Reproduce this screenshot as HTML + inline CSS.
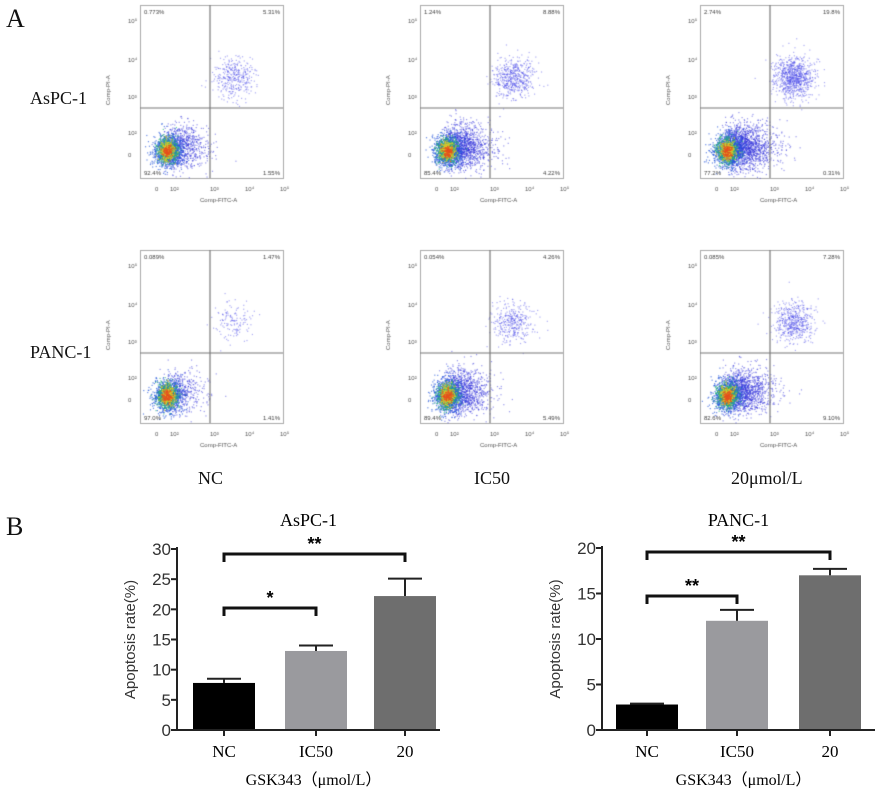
<!DOCTYPE html>
<html><head><meta charset="utf-8">
<style>
html,body{margin:0;padding:0;background:#fff;}
#wrap{position:relative;width:886px;height:788px;overflow:hidden;font-family:"Liberation Serif",serif;}
.t{position:absolute;color:#111;white-space:nowrap;}
canvas{position:absolute;left:0;top:0;}
</style></head>
<body>
<div id="wrap">
<canvas id="flow" width="886" height="480"></canvas>
<div class="t" style="left:6px;top:4px;font-size:26px">A</div>
<div class="t" style="left:30px;top:88px;font-size:18px">AsPC-1</div>
<div class="t" style="left:30px;top:342px;font-size:18px">PANC-1</div>
<div class="t" style="left:198px;top:468px;font-size:18px">NC</div>
<div class="t" style="left:474px;top:468px;font-size:18px">IC50</div>
<div class="t" style="left:731px;top:468px;font-size:18px">20μmol/L</div>
<div class="t" style="left:6px;top:512px;font-size:26px">B</div>
<svg id="bars" width="886" height="788" style="position:absolute;left:0;top:0"></svg>
</div>
<script>
// ---- Bar chart data ----
const categories = ["NC","IC50","20"];
const aspcValues = [7.8, 13.1, 22.2];
const aspcErrors = [0.7, 0.9, 2.9];
const pancValues = [2.8, 12.0, 17.0];
const pancErrors = [0.1, 1.2, 0.7];
const aspcTicks = [0,5,10,15,20,25,30];
const pancTicks = [0,5,10,15,20];
const barColors = ["#000000","#9a9a9e","#6e6e6e"];

const NS="http://www.w3.org/2000/svg";
const svg=document.getElementById('bars');
function mk(tag,attrs,name,txt){const e=document.createElementNS(NS,tag);for(const k in attrs)e.setAttribute(k,attrs[k]);


if(txt!==undefined)e.textContent=txt;svg.appendChild(e);return e;}

function chart(prefix,title,ax,axEnd,y0,yTop,maxV,ticks,vals,errs,barLefts,sigs){
  const y=v=>y0-(v/maxV)*(y0-yTop);
  const bw=62;
  mk('text',{x:(ax+axEnd)/2,y:526,'font-size':18,'text-anchor':'middle','font-family':'Liberation Serif'},prefix+'-title',title);
  vals.forEach((v,i)=>{
    const x=barLefts[i];
    mk('rect',{x:x,y:y(v),width:bw,height:y0-y(v),fill:barColors[i]},prefix+'-bar-'+categories[i].toLowerCase());
    const cx=x+bw/2,ye=y(v+errs[i]);
    mk('line',{x1:cx,y1:y(v),x2:cx,y2:ye,stroke:'#222','stroke-width':2},prefix+'-error-'+i);
    mk('line',{x1:cx-17,y1:ye,x2:cx+17,y2:ye,stroke:'#222','stroke-width':2},prefix+'-error-cap-'+i);
    mk('line',{x1:cx,y1:y0,x2:cx,y2:y0+6,stroke:'#222','stroke-width':2},prefix+'-xtick-'+i);
    mk('text',{x:cx,y:y0+27,'font-size':17,'text-anchor':'middle','font-family':'Liberation Serif'},prefix+'-xlabel-'+i,categories[i]);
  });
  mk('line',{x1:ax,y1:yTop-2,x2:ax,y2:y0,stroke:'#222','stroke-width':2},prefix+'-y-axis');
  mk('line',{x1:ax,y1:y0,x2:axEnd,y2:y0,stroke:'#222','stroke-width':2},prefix+'-x-axis');
  ticks.forEach(t=>{
    mk('line',{x1:ax-6,y1:y(t),x2:ax,y2:y(t),stroke:'#222','stroke-width':2},prefix+'-ytick-'+t);
    mk('text',{x:ax-6,y:y(t)+6,'font-size':17,'text-anchor':'end','font-family':'Liberation Sans','fill':'#333'},prefix+'-ytick-label-'+t,String(t));
  });
  mk('text',{x:0,y:0,'font-size':15,'text-anchor':'middle','font-family':'Liberation Sans','fill':'#333',transform:`translate(${ax-42},${(y0+yTop)/2}) rotate(-90)`},prefix+'-y-axis-title','Apoptosis rate(%)');
  mk('text',{x:(ax+axEnd)/2+5,y:y0+55,'font-size':16,'text-anchor':'middle','font-family':'Liberation Serif'},prefix+'-x-axis-title','GSK343（μmol/L）');
  sigs.forEach((s,k)=>{
    const x1=barLefts[s.a]+bw/2,x2=barLefts[s.b]+bw/2,yy=s.y;
    mk('path',{d:`M${x1},${yy+8}V${yy}H${x2}V${yy+8}`,fill:'none',stroke:'#111','stroke-width':3},prefix+'-sig-bracket-'+k);
    mk('text',{x:(x1+x2)/2,y:yy-4,'font-size':18,'text-anchor':'middle','font-family':'Liberation Sans','font-weight':'bold'},prefix+'-sig-star-'+k,s.t);
  });
}
chart('aspc','AsPC-1',177,440,730,549,30,aspcTicks,aspcValues,aspcErrors,[193,285,374],
  [{a:0,b:2,y:554,t:'**'},{a:0,b:1,y:608,t:'*'}]);
chart('panc','PANC-1',602,875,730,548,20,pancTicks,pancValues,pancErrors,[616,706,799],
  [{a:0,b:2,y:552,t:'**'},{a:0,b:1,y:596,t:'**'}]);

// ---- Flow cytometry panels ----
const cv=document.getElementById('flow');const c=cv.getContext('2d');
let seed=7;function rnd(){seed=(seed*16807)%2147483647;return seed/2147483647;}
function gauss(){return Math.sqrt(-2*Math.log(rnd()+1e-9))*Math.cos(2*Math.PI*rnd());}
const panels=[
 {x:140,y:5,q:['0.773%','5.31%','92.4%','1.55%'],ur:0.4,spread:0.5},
 {x:420,y:5,q:['1.24%','8.88%','85.4%','4.22%'],ur:0.6,spread:0.8},
 {x:700,y:5,q:['2.74%','19.8%','77.2%','0.31%'],ur:1.0,spread:1.0},
 {x:140,y:250,q:['0.089%','1.47%','97.0%','1.41%'],ur:0.15,spread:0.3},
 {x:420,y:250,q:['0.054%','4.26%','89.4%','5.49%'],ur:0.4,spread:0.7},
 {x:700,y:250,q:['0.085%','7.28%','82.6%','9.10%'],ur:0.6,spread:0.8}];
const W=143,H=173;
function dot(x,y,col){c.fillStyle=col;c.fillRect(x,y,1.2,1.2);}
panels.forEach(p=>{
  c.strokeStyle='#aaa';c.lineWidth=1;c.strokeRect(p.x+0.5,p.y+0.5,W,H);
  for(let i=0;i<1800*p.spread;i++){
    const x=p.x+28+Math.abs(gauss())*16*(0.8+p.spread*0.5)+gauss()*5;
    const y=p.y+H-25-gauss()*10-Math.abs(gauss())*8;
    if(x>p.x+2&&x<p.x+W&&y>p.y&&y<p.y+H)dot(x,y,'rgba(50,50,220,0.5)');
  }
  for(let i=0;i<900*p.ur;i++){
    const x=p.x+93+gauss()*10,y=p.y+72+gauss()*10;
    if(x>p.x&&x<p.x+W)dot(x,y,'rgba(70,70,230,0.45)');
  }
  for(let i=0;i<900;i++){dot(p.x+27+gauss()*7,p.y+H-28+gauss()*8,'rgba(40,90,220,0.7)');}
  for(let i=0;i<600;i++){dot(p.x+27+gauss()*5,p.y+H-28+gauss()*6,'rgba(40,180,120,0.7)');}
  for(let i=0;i<300;i++){dot(p.x+27+gauss()*3.5,p.y+H-28+gauss()*4.5,'rgba(220,200,40,0.8)');}
  for(let i=0;i<120;i++){dot(p.x+27+gauss()*2.5,p.y+H-27+gauss()*3,'rgba(230,80,30,0.85)');}
  c.strokeStyle='#777';c.lineWidth=1.2;
  c.beginPath();c.moveTo(p.x+70,p.y);c.lineTo(p.x+70,p.y+H);c.moveTo(p.x,p.y+103);c.lineTo(p.x+W,p.y+103);c.stroke();
  c.fillStyle='#444';c.font='6px "Liberation Sans"';
  c.fillText(p.q[0],p.x+4,p.y+9);c.fillText(p.q[1],p.x+W-20,p.y+9);
  c.fillText(p.q[2],p.x+4,p.y+H-3);c.fillText(p.q[3],p.x+W-20,p.y+H-3);
  c.fillStyle='#555';c.font='6px "Liberation Sans"';
  const yl=['10⁵','10⁴','10³','10²','0'],yy=[18,57,94,130,152];
  yl.forEach((t,i)=>c.fillText(t,p.x-12,p.y+yy[i]));
  const xl=['0','10²','10³','10⁴','10⁵'],xx=[15,30,70,105,140];
  xl.forEach((t,i)=>c.fillText(t,p.x+xx[i],p.y+H+13));
  c.fillText('Comp-FITC-A',p.x+60,p.y+H+24);
  c.save();c.translate(p.x-30,p.y+100);c.rotate(-Math.PI/2);c.fillText('Comp-PI-A',0,0);c.restore();
});
</script>
</body></html>
